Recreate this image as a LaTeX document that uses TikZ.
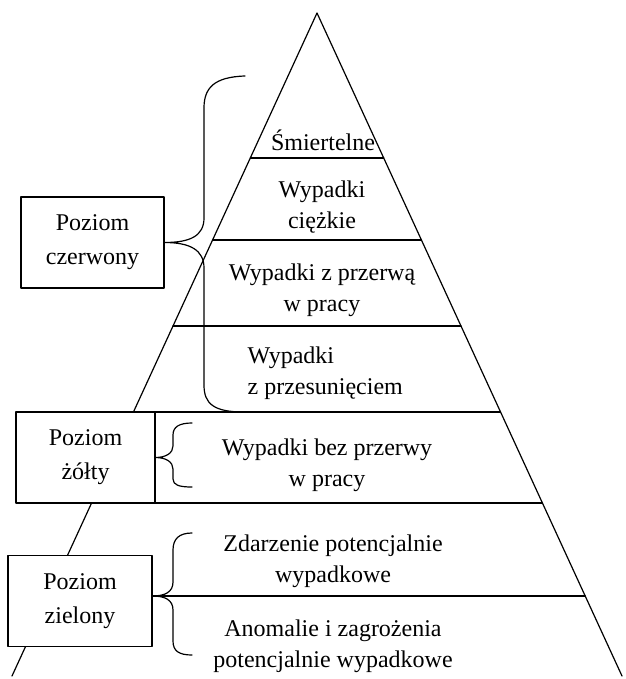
\documentclass[tikz,border=0pt]{standalone}
\usepackage{fontspec}
\setmainfont{Liberation Serif}
\usetikzlibrary{calc}
\tikzset{
  poziom/.style={draw,fill=white,minimum height=91pt,align=center,inner sep=0pt,font=\fontsize{24}{34}\selectfont},
  warstwa/.style={align=center,inner sep=0pt}
}
\begin{document}
\begin{tikzpicture}[x=1pt,y=-1pt,line join=round,line cap=round,line width=1.2pt,font=\fontsize{24}{31}\selectfont]
\useasboundingbox (0,0) rectangle (625,679);
% piramida
\coordinate (A) at (317,13);
\coordinate (L) at (12,676);
\coordinate (R) at (622,676);
\draw (L)--(A)--(R);
\foreach \h [evaluate=\h as \t using (\h-13)/663] in {158,240,326,412,503,596}
  \draw ($(A)!\t!(L)$) -- ($(A)!\t!(R)$);
% poziomy
\node[warstwa,anchor=base] (smierc) at (323,150) {Śmiertelne};
\node[warstwa] (ciezkie) at (322,207) {Wypadki\\ciężkie};
\node[warstwa] (przerwa) at (322,290) {Wypadki z przerwą\\w pracy};
\node[warstwa,align=left,anchor=west] (przesun) at (247,373) {Wypadki\\z przesunięciem};
\node[warstwa] (bezprzerwy) at (327,465) {Wypadki bez przerwy\\w pracy};
\node[warstwa] (zdarzenie) at (333,561) {Zdarzenie potencjalnie\\wypadkowe};
\node[warstwa] (anomalie) at (333,646) {Anomalie i zagrożenia\\potencjalnie wypadkowe};
% ramki
\node[poziom,minimum width=143pt] (czer) at (92.5,242.5) {Poziom\\czerwony};
\node[poziom,minimum width=139pt] (zolty) at (85.5,457.5) {Poziom\\żółty};
\node[poziom,minimum width=144pt] (ziel) at (80,601) {Poziom\\zielony};
% klamry
\coordinate (c1) at (245,76);
\coordinate (c2) at (244,412);
\draw (c1) .. controls (214,77) and (204,88) .. (204,108) -- (204,218)
  .. controls (204,236) and (190,242.5) .. (czer.east)
  .. controls (190,242.5) and (204,250) .. (204,268) -- (204,385)
  .. controls (204,404) and (214,412) .. (c2);
\coordinate (z1) at (192,423);
\coordinate (z2) at (192,487);
\draw (z1) .. controls (179,423) and (173,427) .. (173,435) -- (173,446)
  .. controls (173,453) and (166,457.5) .. (zolty.east)
  .. controls (166,457.5) and (173,462) .. (173,469) -- (173,479)
  .. controls (173,485) and (179,487) .. (z2);
\coordinate (zt) at ($(ziel.east)+(0,-5)$);
\coordinate (g1) at (192,533);
\coordinate (g2) at (192,655);
\draw (g1) .. controls (179,533) and (173,539) .. (173,550) -- (173,582)
  .. controls (173,592) and (165,596) .. (zt)
  .. controls (165,596) and (173,600) .. (173,610) -- (173,641)
  .. controls (173,651) and (179,655) .. (g2);
\end{tikzpicture}
\end{document}
